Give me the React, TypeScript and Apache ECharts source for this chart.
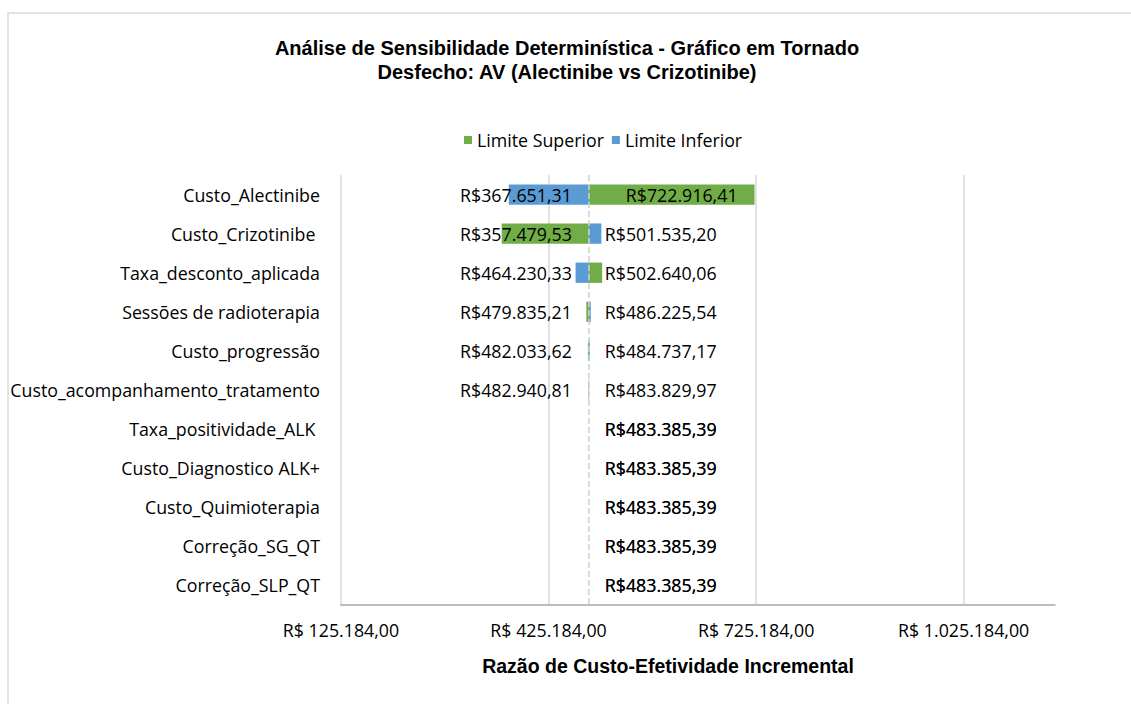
import React, { useEffect, useRef } from "react";
import * as echarts from "echarts";

const categories = [
  "Custo_Alectinibe",
  "Custo_Crizotinibe ",
  "Taxa_desconto_aplicada",
  "Sessões de radioterapia",
  "Custo_progressão",
  "Custo_acompanhamento_tratamento",
  "Taxa_positividade_ALK ",
  "Custo_Diagnostico ALK+",
  "Custo_Quimioterapia",
  "Correção_SG_QT",
  "Correção_SLP_QT",
];

const limiteSuperior = [
  722916.41, 357479.53, 502640.06, 479835.21, 482033.62, 482940.81,
  483385.39, 483385.39, 483385.39, 483385.39, 483385.39,
];

const limiteInferior = [
  367651.31, 501535.2, 464230.33, 486225.54, 484737.17, 483829.97,
  483385.39, 483385.39, 483385.39, 483385.39, 483385.39,
];

const baseValue = 483385.39;
const axisMin = 125184;
const axisMax = 1157184;
const axisStep = 300000;

const GREEN = "#70AD47";
const BLUE = "#5B9BD5";
const LABEL_FONT = "Open Sans";
const LABEL_SIZE = 17.8;

function brl(v: number): string {
  const [i, d] = v.toFixed(2).split(".");
  return i.replace(/\B(?=(\d{3})+(?!\d))/g, ".") + "," + d;
}

function makeRender() {
  return (params: any, api: any) => {
    const v = api.value(0) as number;
    const idx = api.value(1) as number;
    const p0 = api.coord([baseValue, idx]);
    const p1 = api.coord([v, idx]);
    const band = api.size([0, 1])[1];
    const h = band * 0.52;
    const x0 = Math.min(p0[0], p1[0]);
    const w = Math.abs(p1[0] - p0[0]);
    const text = "R$" + brl(v);
    let tx: number;
    let align: string;
    if (v < baseValue) {
      tx = p0[0] - 17;
      align = "right";
    } else if (w > 150) {
      tx = p1[0] - 17;
      align = "right";
    } else {
      tx = p0[0] + 16;
      align = "left";
    }
    return {
      type: "group",
      children: [
        {
          type: "rect",
          shape: { x: x0, y: p0[1] - h / 2, width: w, height: h },
          style: api.style(),
        },
        {
          type: "text",
          z2: 10,
          style: {
            text,
            x: tx,
            y: p0[1],
            align,
            verticalAlign: "middle",
            textAlign: align,
            textVerticalAlign: "middle",
            fill: "#000",
            fontSize: LABEL_SIZE,
            fontFamily: LABEL_FONT,
          },
        },
      ],
    };
  };
}

export default function App() {
  const ref = useRef<HTMLDivElement>(null);
  useEffect(() => {
    if (!ref.current) return;
    const chart = echarts.init(ref.current, undefined, { renderer: "svg" });
    chart.setOption({
      animation: false,
      backgroundColor: "#fff",
      graphic: [
        {
          type: "rect",
          shape: { x: 8, y: 13, width: 1200, height: 800 },
          style: { fill: "none", stroke: "#d9d9d9", lineWidth: 1.5 },
          silent: true,
          z: -1,
        },
      ],
      title: {
        text:
          "Análise de Sensibilidade Determinística - Gráfico em Tornado\nDesfecho: AV (Alectinibe vs Crizotinibe)",
        left: 562,
        top: 31,
        textAlign: "center",
        textStyle: {
          fontFamily: "Liberation Sans",
          fontWeight: "bold",
          fontSize: 20,
          lineHeight: 24,
          color: "#000",
        },
      },
      legend: {
        data: ["Limite Superior", "Limite Inferior"],
        left: 459,
        top: 126,
        icon: "rect",
        itemWidth: 8,
        itemHeight: 8,
        itemGap: 8,
        textStyle: { fontFamily: LABEL_FONT, fontSize: LABEL_SIZE, color: "#000" },
      },
      grid: { left: 341, right: 76, top: 175, bottom: 99, containLabel: false },
      xAxis: {
        type: "value",
        min: axisMin,
        max: axisMax,
        interval: axisStep,
        name: "Razão de Custo-Efetividade Incremental",
        nameLocation: "middle",
        nameGap: 51,
        nameTextStyle: {
          fontFamily: "Liberation Sans",
          fontWeight: "bold",
          fontSize: 19.5,
          color: "#000",
          padding: [0, 60, 0, 0],
        },
        axisLine: { show: true, lineStyle: { color: "#a6a6a6", width: 1.5 } },
        axisTick: { show: false },
        axisLabel: {
          showMaxLabel: false,
          margin: 16,
          fontFamily: LABEL_FONT,
          fontSize: LABEL_SIZE,
          color: "#000",
          formatter: (v: number) => "R$ " + brl(v),
        },
        splitLine: {
          show: true,
          showMaxLine: false,
          lineStyle: { color: "#d9d9d9", width: 1.5 },
        },
      },
      yAxis: {
        type: "category",
        data: categories,
        inverse: true,
        axisLine: { show: false },
        axisTick: { show: false },
        axisLabel: {
          margin: 21,
          fontFamily: LABEL_FONT,
          fontSize: LABEL_SIZE,
          color: "#000",
        },
      },
      series: [
        {
          name: "Limite Superior",
          type: "custom",
          itemStyle: { color: GREEN },
          renderItem: makeRender(),
          encode: { x: 0, y: 1 },
          data: limiteSuperior.map((v, i) => [v, i]),
          markLine: {
            silent: true,
            symbol: "none",
            label: { show: false },
            lineStyle: { type: "dashed", color: "#d0d0d0", width: 1.5 },
            data: [{ xAxis: baseValue }],
          },
        },
        {
          name: "Limite Inferior",
          type: "custom",
          itemStyle: { color: BLUE },
          renderItem: makeRender(),
          encode: { x: 0, y: 1 },
          data: limiteInferior.map((v, i) => [v, i]),
        },
      ],
    });
    return () => chart.dispose();
  }, []);
  return (
    <div
      ref={ref}
      style={{ position: "fixed", left: 0, top: 0, width: 1131, height: 704 }}
    />
  );
}
